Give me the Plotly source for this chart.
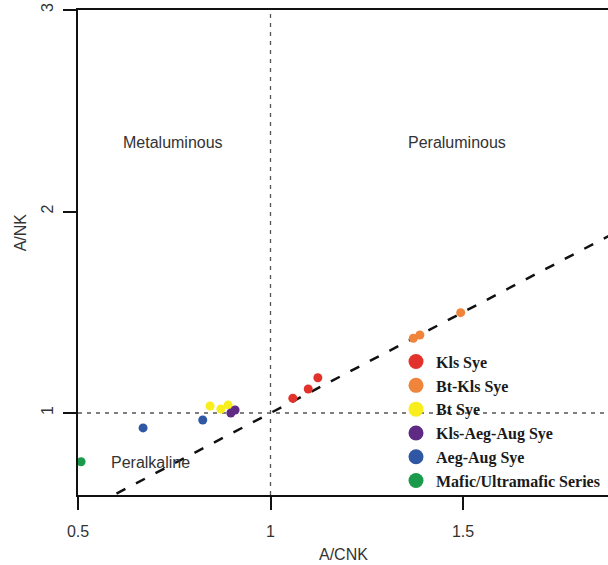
import plotly.graph_objects as go

# ---- data ----
series_names = ["Kls Sye", "Bt-Kls Sye", "Bt Sye", "Kls-Aeg-Aug Sye", "Aeg-Aug Sye", "Mafic/Ultramafic Series"]
series_colors = ["#E2322B", "#F0843A", "#F7EE1C", "#5E2A84", "#2F57A4", "#1B9A4B"]
kls_x = [1.058, 1.098, 1.123]
kls_y = [1.073, 1.119, 1.175]
btkls_x = [1.371, 1.388, 1.494]
btkls_y = [1.371, 1.387, 1.498]
bt_x = [0.843, 0.871, 0.890]
bt_y = [1.035, 1.020, 1.040]
kaa_x = [0.897, 0.908]
kaa_y = [1.000, 1.015]
aa_x = [0.669, 0.824]
aa_y = [0.926, 0.965]
mafic_x = [0.508]
mafic_y = [0.758]
boundary = [0.6, 2.0]          # A/NK = A/CNK boundary line
x_ticks = [0.5, 1, 1.5]
x_ticklabels = ["0.5", "1", "1.5"]
y_ticks = [1, 2, 3]
y_ticklabels = ["1", "2", "3"]
region_labels = ["Metaluminous", "Peraluminous", "Peralkaline"]
region_x = [0.747, 1.484, 0.687]
region_y = [2.34, 2.34, 0.752]

xs = [kls_x, btkls_x, bt_x, kaa_x, aa_x, mafic_x]
ys = [kls_y, btkls_y, bt_y, kaa_y, aa_y, mafic_y]

SANS = "Liberation Sans, Arial, sans-serif"
SERIF = "Liberation Serif, Times New Roman, serif"

fig = go.Figure()

# boundary dashed line
fig.add_trace(go.Scatter(x=boundary, y=boundary, mode="lines",
                         line=dict(color="#111111", width=2.5, dash="10px,12px"),
                         showlegend=False, hoverinfo="skip"))

# data points
for name, col, x, y in zip(series_names, series_colors, xs, ys):
    fig.add_trace(go.Scatter(x=x, y=y, mode="markers", name=name,
                             marker=dict(color=col, size=9, line=dict(width=0)),
                             showlegend=False, cliponaxis=False))

# legend entries (bigger symbols)
for i, (name, col) in enumerate(zip(series_names, series_colors)):
    fig.add_trace(go.Scatter(x=[None], y=[None], mode="markers", name=name,
                             legendgroup=str(i),
                             marker=dict(color=col, size=15, line=dict(width=0))))

# dotted reference lines at 1
fig.add_shape(type="line", xref="x", yref="paper", x0=1, x1=1, y0=0, y1=1,
              line=dict(color="#555555", width=1.3, dash="4px,5px"), layer="below")
fig.add_shape(type="line", xref="paper", yref="y", x0=0, x1=1, y0=1, y1=1,
              line=dict(color="#555555", width=1.3, dash="4px,5px"), layer="below")

for t, x, y in zip(region_labels, region_x, region_y):
    fig.add_annotation(x=x, y=y, text=t, showarrow=False, xanchor="center", yanchor="middle",
                       font=dict(family=SANS, size=16, color="#333333"))

# axis titles
fig.add_annotation(xref="paper", yref="paper", x=0.5, y=-0.123, text="A/CNK", showarrow=False,
                   xanchor="center", yanchor="middle", font=dict(family=SANS, size=16, color="#333333"))
fig.add_annotation(xref="paper", yref="paper", x=-0.109, y=0.542, text="A/NK", showarrow=False,
                   textangle=-90, xanchor="center", yanchor="middle",
                   font=dict(family=SANS, size=16, color="#333333"))

fig.update_layout(
    width=608, height=565,
    margin=dict(l=78, r=0, t=10, b=70, autoexpand=False),
    paper_bgcolor="white", plot_bgcolor="white",
    font=dict(family=SANS, size=16, color="#333333"),
    legend=dict(x=0.6, y=0.31, xanchor="left", yanchor="top",
                bgcolor="rgba(0,0,0,0)", borderwidth=0, tracegroupgap=0,
                font=dict(family=SERIF, size=16, color="#1a1a1a", weight="bold"),
                itemsizing="trace"),
    xaxis=dict(range=[0.5, 0.5 + 530 / 385], tickmode="array", tickvals=x_ticks, ticktext=x_ticklabels,
               showgrid=False, zeroline=False, showline=True, linecolor="#111111", linewidth=1.6,
               mirror=True, ticks="outside", ticklen=13, tickwidth=1.6, tickcolor="#111111",
               ticklabelstandoff=8, tickfont=dict(family=SANS, size=16, color="#333333")),
    yaxis=dict(range=[3 - 485 / 201.5, 3], tickmode="array", tickvals=y_ticks, ticktext=y_ticklabels,
               showgrid=False, zeroline=False, showline=True, linecolor="#111111", linewidth=1.6,
               ticks="outside", ticklen=13, tickwidth=1.6, tickcolor="#111111", tickangle=-90,
               ticklabelstandoff=4, tickfont=dict(family=SANS, size=16, color="#333333")),
)

fig.write_html("out.html", config={"displayModeBar": False},
               post_script="document.body.style.margin='0px';document.body.style.overflow='hidden';")
